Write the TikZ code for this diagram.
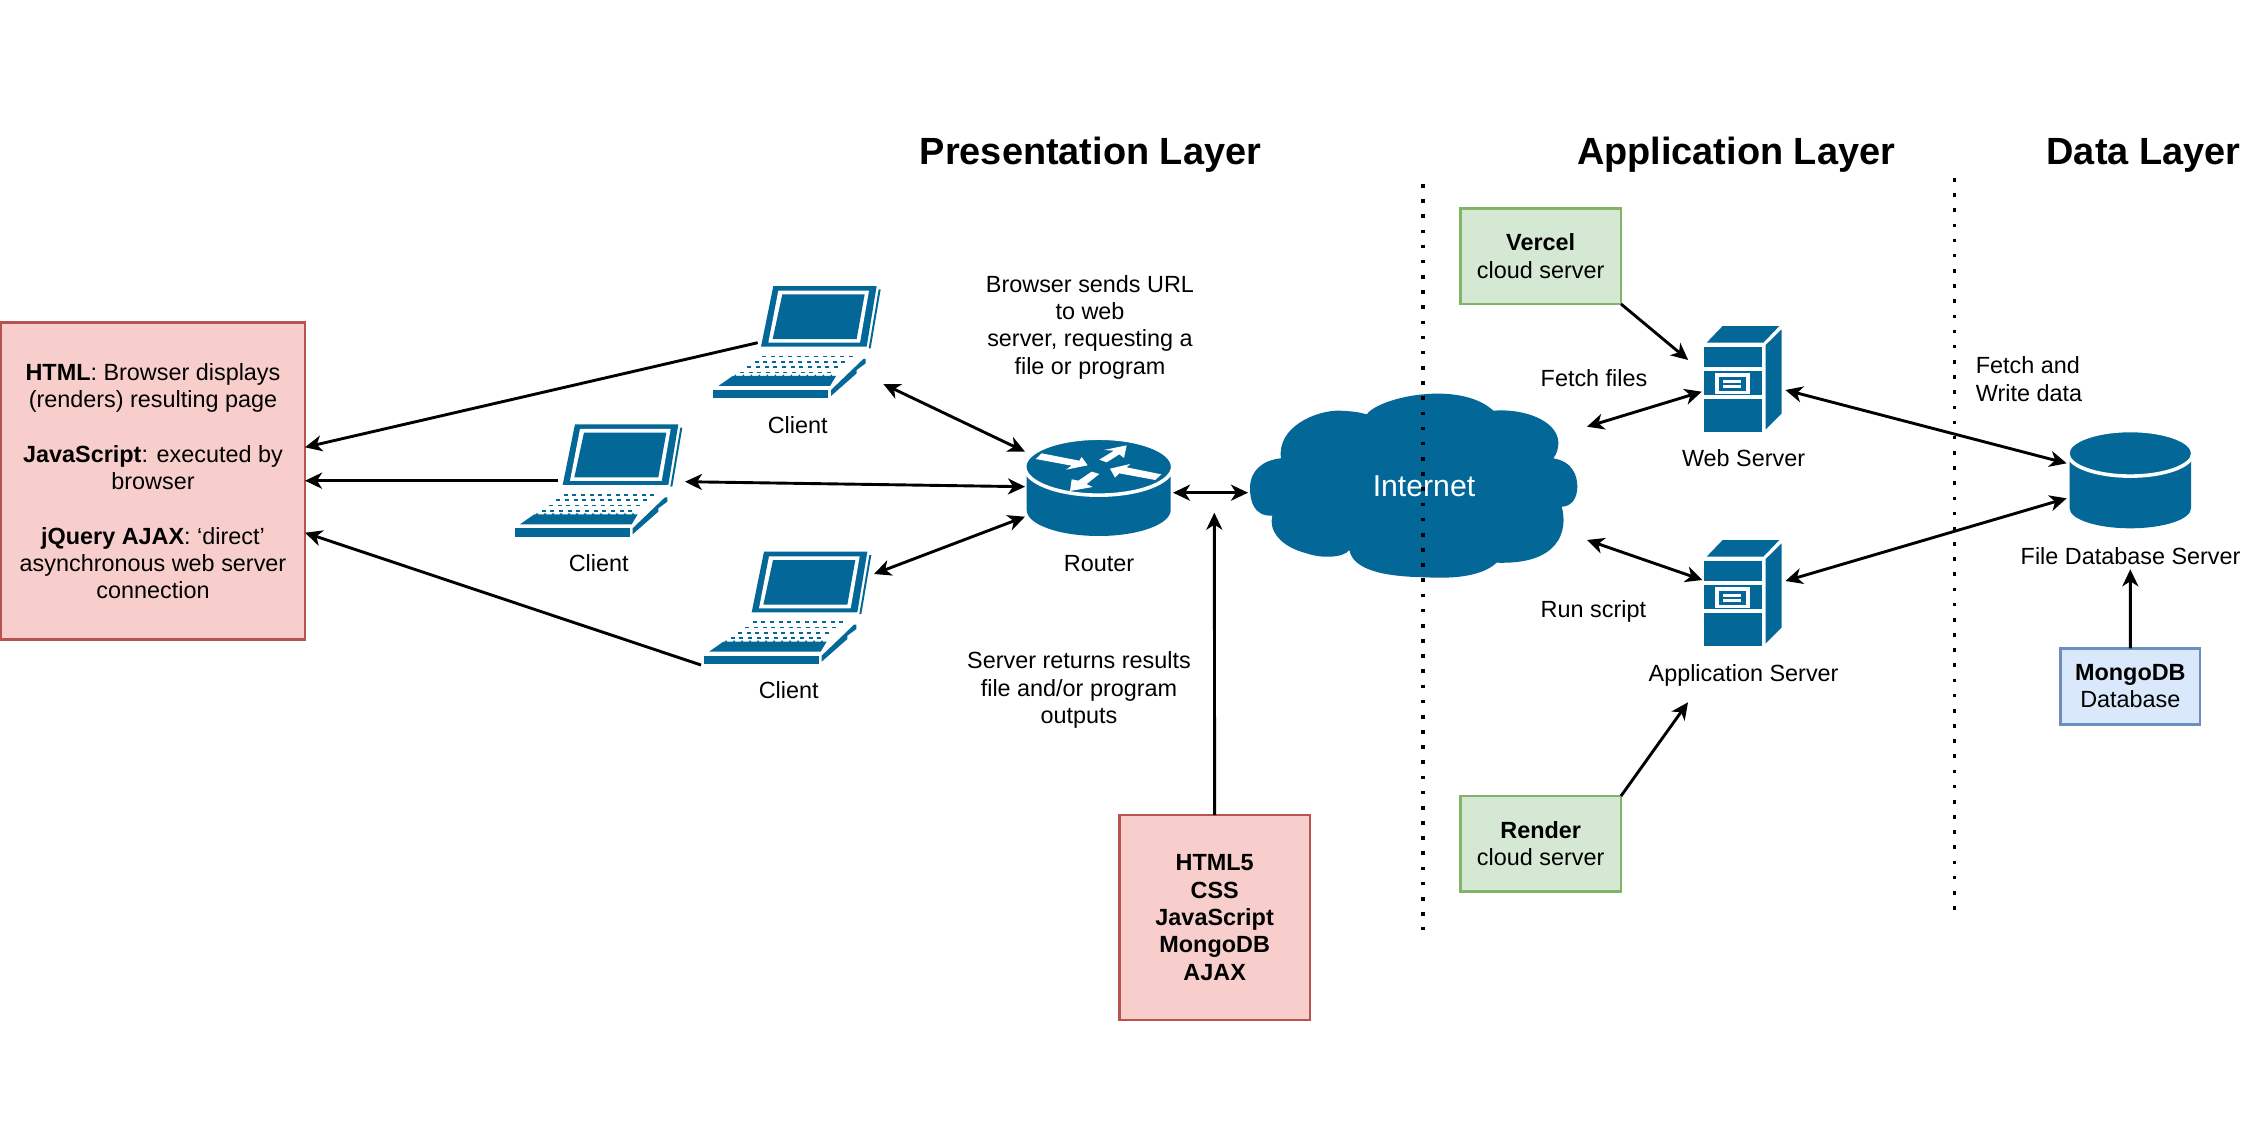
\documentclass[tikz,border=0pt]{standalone}
\usepackage{fontspec}
\setmainfont{Liberation Sans}
\usetikzlibrary{arrows.meta}
\definecolor{icon}{HTML}{036897}
\definecolor{redfill}{HTML}{F8CECC}\definecolor{redline}{HTML}{B85450}
\definecolor{greenfill}{HTML}{D5E8D4}\definecolor{greenline}{HTML}{82B366}
\definecolor{bluefill}{HTML}{DAE8FC}\definecolor{blueline}{HTML}{6C8EBF}
\tikzset{
  txt/.style={inner sep=0pt,outer sep=0pt,align=center,font=\fontsize{23.4}{27.3}\selectfont},
  lbl/.style={txt,anchor=base},
  title/.style={inner sep=0pt,anchor=base,font=\fontsize{37.9}{44}\selectfont\bfseries},
  box/.style={txt,draw,line width=2.9pt,anchor=north west},
  redbox/.style={box,draw=redline,fill=redfill},
  greenbox/.style={box,draw=greenline,fill=greenfill,minimum width=160.6pt,minimum height=95.7pt},
  bluebox/.style={box,draw=blueline,fill=bluefill},
  conn/.style={line width=2.9pt,-{Stealth[length=17pt,width=16pt,inset=5pt]}},
  conn2/.style={line width=2.9pt,{Stealth[length=17pt,width=16pt,inset=5pt]}-{Stealth[length=17pt,width=16pt,inset=5pt]}},
  sep/.style={line width=3.6pt,dash pattern=on 3.6pt off 11.57pt},
  pics/laptop/.style={code={
    \begin{scope}[x=0.33333pt,y=-0.33333pt]
      \fill[icon] (180,0)--(490,0)--(460,182)--(143,182)--cycle;
      \fill[white] (195,14)--(467,14)--(440,170)--(165,170)--cycle;
      \fill[icon] (207,25)--(454,25)--(430,159)--(178,159)--cycle;
      \fill[icon] (496,10)--(502,10)--(472,187)--(466,187)--cycle;
      \foreach \r in {0,1,2,3}{
        \foreach \c in {0,...,10}{
          \fill[icon] ({146+\c*26-\r*22},{214+\r*16}) rectangle ++(12,-5);
        }
      }
      \fill[icon] (58,270)--(368,270)--(350,300)--(15,300)--cycle;
      \foreach \c in {0,...,12}{
        \fill[icon] ({62+\c*24},{272}) -- ++(4,-7) -- ++(4,7) --cycle;
      }
      \fill[icon] (0,312) rectangle (345,337);
      \fill[icon] (353,312)--(450,219)--(457,219)--(457,232)--(430,252)--(430,262)--(353,330)--cycle;
    \end{scope}
  }},
  pics/srv/.style={code={
    \begin{scope}[x=0.33333pt,y=-0.33333pt]
      \fill[icon] (71,110) rectangle (245,172);
      \fill[icon] (71,183) rectangle (245,256);
      \fill[icon] (71,268) rectangle (245,367);
      \fill[icon] (80,98)--(128,48)--(298,48)--(250,98)--cycle;
      \fill[icon] (257,105)--(305,58)--(305,310)--(257,358)--cycle;
      \fill[white] (105,190) rectangle (210,253);
      \fill[icon] (117,202) rectangle (198,242);
      \fill[white] (130,210) rectangle (183,220);
      \fill[white] (130,224) rectangle (183,235);
    \end{scope}
  }},
}
\begin{document}
\begin{tikzpicture}[x=1pt,y=-1pt]
\useasboundingbox (0,0) rectangle (2268,1134);
\fill[white] (0,0) rectangle (2268,1134);

% titles
\node[title] (ptitle) at (1090.5,165) {Presentation Layer};
\node[title] (atitle) at (1736,165) {Application Layer};
\node[title] (dtitle) at (2143.5,165) {Data Layer};

% cloud
\begin{scope}[shift={(1240,370)},x=0.33333pt,y=-0.33333pt]
  \fill[icon] (380,133) .. controls (420,80) and (660,30) .. (760,122)
    .. controls (850,115) and (950,150) .. (955,215)
    .. controls (955,240) and (950,250) .. (940,265)
    .. controls (1000,275) and (1012,320) .. (1012,350)
    .. controls (1012,390) and (990,410) .. (965,410)
    .. controls (985,480) and (960,585) .. (770,578)
    .. controls (720,625) and (620,625) .. (560,622)
    .. controls (430,620) and (340,600) .. (328,540)
    .. controls (310,565) and (240,565) .. (200,550)
    .. controls (120,530) and (85,480) .. (97,437)
    .. controls (40,440) and (30,390) .. (30,355)
    .. controls (30,300) and (70,270) .. (123,265)
    .. controls (110,170) and (230,120) .. (300,122)
    .. controls (340,124) and (360,127) .. (380,133) -- cycle;
\end{scope}
\node[txt,anchor=base,text=white,font=\fontsize{30.2}{36}\selectfont] (internet) at (1424,496) {Internet};

% separators
\coordinate (sepA1) at (1423,184);\coordinate (sepA2) at (1423,930);
\coordinate (sepB1) at (1954.3,178);\coordinate (sepB2) at (1954.3,912);
\draw[sep] (sepA1) -- (sepA2);
\draw[sep] (sepB1) -- (sepB2);

% laptops
\pic at (713.33,286) {laptop};
\pic at (515,424.3) {laptop};
\pic at (704,551.7) {laptop};
\node[lbl] (clientA) at (797.7,433.3) {Client};
\node[lbl] (clientB) at (598.7,571.7) {Client};
\node[lbl] (clientC) at (788.7,698.7) {Client};

% router
\begin{scope}[shift={(1000,360)},x=0.33333pt,y=-0.33333pt]
  \fill[icon] (80,320) -- (80,450) arc[start angle=180,end angle=0,x radius=216,y radius=78] -- (512,320) -- cycle;
  \fill[icon,draw=white,line width=3.6pt] (296,320) ellipse[x radius=222,y radius=85.5];
  \fill[white] (125,280)--(238,302)--(245,291)--(263,316)--(198,329)--(215,317)--(107,297)--cycle;
  \fill[white] (298,299)--(342,272)--(312,270)--(380,256)--(372,294)--(358,283)--(320,307)--cycle;
  \fill[white] (484,343)--(380,322)--(390,312)--(330,326)--(345,353)--(358,340)--(466,360)--cycle;
  \fill[white] (275,335)--(235,362)--(215,358)--(210,393)--(278,381)--(260,372)--(298,342)--cycle;
\end{scope}
\node[lbl] (routerlabel) at (1099,571.6) {Router};

% servers
\pic at (1680,310) {srv};
\pic at (1680,524) {srv};
\node[lbl] (weblabel) at (1743.6,466.7) {Web Server};
\node[lbl] (applabel) at (1743.6,681.7) {Application Server};

% database
\begin{scope}[shift={(2130.3,453.3)}]
  \fill[icon] (-60.7,0) -- (-60.7,55) arc[start angle=180,end angle=0,x radius=60.7,y radius=20] -- (60.7,0) -- cycle;
  \fill[icon,draw=white,line width=3.6pt] (0,0) ellipse[x radius=62.5,y radius=22.8];
\end{scope}
\node[lbl] (dblabel) at (2130.6,564) {File Database Server};

% boxes
\node[redbox,minimum width=304pt,minimum height=317pt] (info) at (1,322.8) {\textbf{HTML}: Browser displays\\(renders) resulting page\\[27.3pt]\textbf{JavaScript}: executed by\\browser\\[27.3pt]\textbf{jQuery AJAX}: ‘direct’\\asynchronous web server\\connection};
\node[redbox,minimum width=190.7pt,minimum height=205pt] (stack) at (1119.3,815) {\textbf{HTML5}\\\textbf{CSS}\\\textbf{JavaScript}\\\textbf{MongoDB}\\\textbf{AJAX}};
\node[greenbox] (vercel) at (1460.4,208.3) {\textbf{Vercel}\\cloud server};
\node[greenbox] (render) at (1460.4,796) {\textbf{Render}\\cloud server};
\node[bluebox,minimum width=139.3pt,minimum height=76pt] (mongo) at (2060.7,648.3) {\textbf{MongoDB}\\Database};

% free labels
\node[txt,anchor=center] (browsertxt) at (1090,327) {Browser sends URL\\to web\\server, requesting a\\file or program};
\node[txt,anchor=center] (servertxt) at (1079,690) {Server returns results\\file and/or program\\outputs};
\node[lbl,anchor=base west] (fetchfiles) at (1540.7,386.7) {Fetch files};
\node[lbl,anchor=base west] (runscript) at (1540.7,617.7) {Run script};
\node[txt,align=left,anchor=center] (fetchwrite) at (2029,379) {Fetch and\\Write data};

% ports
\coordinate (a-info) at (305,447.3);\coordinate (b-info) at (305,480.7);\coordinate (c-info) at (305,532.7);
\coordinate (a-out) at (757.7,342.7);\coordinate (b-out) at (558.3,480.7);\coordinate (c-out) at (701,665);
\coordinate (a-net) at (883.3,384);\coordinate (b-net) at (685,481.7);\coordinate (c-net) at (874,574);
\coordinate (r-a) at (1025,451.7);\coordinate (r-b) at (1025,486.7);\coordinate (r-c) at (1025,516.7);
\coordinate (r-e) at (1173,492.7);\coordinate (cloud-w) at (1248,492.7);
\coordinate (stack-tip) at (1214.3,512.7);
\coordinate (cloud-ne) at (1587,426.7);\coordinate (cloud-se) at (1587,540);
\coordinate (web-w) at (1701.8,391.7);\coordinate (web-e) at (1785.4,390);
\coordinate (app-w) at (1702.5,580);\coordinate (app-e) at (1785.4,581);
\coordinate (web-nw) at (1688.2,360);\coordinate (app-sw) at (1688,702.3);
\coordinate (db-a) at (2066.7,463.3);\coordinate (db-b) at (2066.7,498.3);
\coordinate (db-s) at (2130.3,569.3);

% connectors
\draw[conn] (a-out) -- (a-info);
\draw[conn] (b-out) -- (b-info);
\draw[conn] (c-out) -- (c-info);
\draw[conn2] (a-net) -- (r-a);
\draw[conn2] (b-net) -- (r-b);
\draw[conn2] (c-net) -- (r-c);
\draw[conn2] (r-e) -- (cloud-w);
\draw[conn] (stack.north) -- (stack-tip);
\draw[conn2] (cloud-ne) -- (web-w);
\draw[conn2] (cloud-se) -- (app-w);
\draw[conn] (vercel.south east) -- (web-nw);
\draw[conn] (render.north east) -- (app-sw);
\draw[conn2] (web-e) -- (db-a);
\draw[conn2] (app-e) -- (db-b);
\draw[conn] (mongo.north) -- (db-s);
\end{tikzpicture}
\end{document}
